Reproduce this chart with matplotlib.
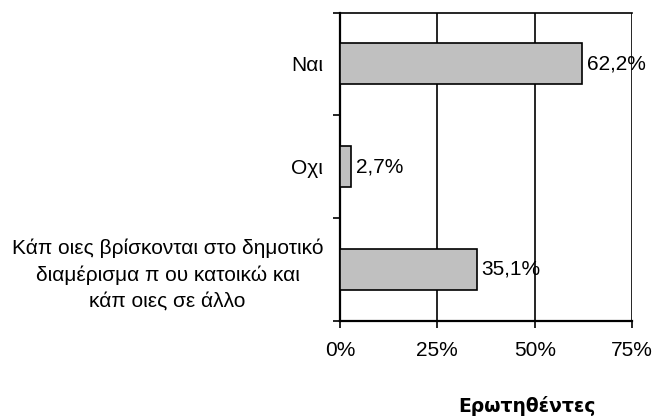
import matplotlib
matplotlib.use("Agg")
import matplotlib.pyplot as plt
from matplotlib.ticker import FixedLocator

plt.rcParams['font.family'] = ['Liberation Sans', 'DejaVu Sans']

categories = ["Ναι", "Οχι",
              "Κάπ οιες βρίσκονται στο δημοτικό\nδιαμέρισμα π ου κατοικώ και\nκάπ οιες σε άλλο"]
values = [62.2, 2.7, 35.1]
value_labels = ["62,2%", "2,7%", "35,1%"]
xticks = [0, 25, 50, 75]
xtick_labels = ["0%", "25%", "50%", "75%"]
xlabel = "Ερωτηθέντες"

fig = plt.figure(figsize=(6.52, 4.16), dpi=100)
ax = fig.add_axes([340/652, 1-320.5/416, 292/652, 308/416])

pos = list(range(len(categories)))
ax.barh(pos, values, height=0.4, color="#C0C0C0", edgecolor="black", linewidth=1.2, zorder=3)
for p, v, lab in zip(pos, values, value_labels):
    ax.text(v + 1.3, p, lab, va="center", ha="left", fontsize=15, zorder=4)

ax.set_xlim(0, 75)
ax.set_ylim(2.5, -0.5)
ax.set_xticks(xticks)
ax.set_xticklabels(xtick_labels, fontsize=15)
ax.set_yticks(pos)
ax.set_yticklabels(categories, fontsize=15, ha="right", multialignment="center",
                   linespacing=1.45)
ax.tick_params(axis='y', length=0, pad=12)
ax.yaxis.set_minor_locator(FixedLocator([-0.5, 0.5, 1.5, 2.5]))
ax.tick_params(axis='y', which='minor', length=5, width=1.2, direction='out')
ax.tick_params(axis='x', length=5, width=1.2, direction='out', pad=10)
for x in [25, 50, 75]:
    ax.axvline(x, color="black", linewidth=1.2, zorder=1)
for s in ['left', 'bottom']:
    ax.spines[s].set_linewidth(1.6)
ax.spines['top'].set_linewidth(1.2)
ax.spines['right'].set_visible(False)

fig.text(527/652, 1-412/416, xlabel, fontsize=13.5, fontweight="bold", ha="center", va="baseline",
         family=['DejaVu Sans'])

fig.savefig("out.png", dpi=100)
